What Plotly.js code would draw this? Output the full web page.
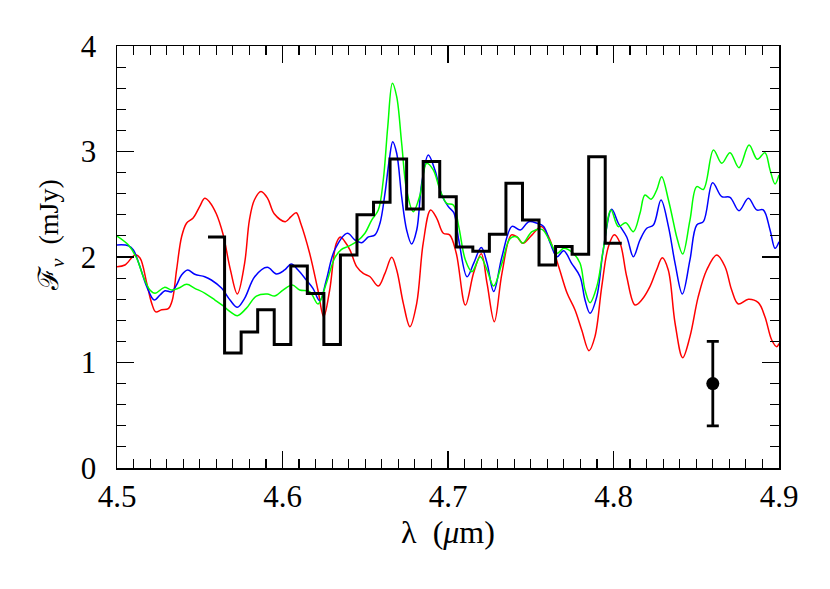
<!DOCTYPE html>
<html>
<head>
<meta charset="utf-8">
<script src="https://cdn.plot.ly/plotly-3.0.1.min.js"></script>
<style>
  html, body { margin: 0; padding: 0; background: #fff; }
  #chart { width: 830px; height: 589px; }
</style>
</head>
<body>
<div id="chart"></div>
<script>
// ---- data ----
const lamRed = [4.500,4.5048,4.5109,4.5139,4.518,4.521,4.5234,4.527,4.531,4.5334,4.536,4.539,4.542,4.546,4.550,4.553,4.556,4.560,4.564,4.5685,4.5727,4.5771,4.580,4.583,4.587,4.591,4.595,4.6017,4.605,4.6083,4.611,4.6164,4.6214,4.6249,4.6285,4.6325,4.635,4.6375,4.6408,4.6448,4.6488,4.6529,4.6579,4.6619,4.666,4.669,4.673,4.677,4.6811,4.685,4.6895,4.6932,4.6972,4.701,4.705,4.7105,4.7155,4.7201,4.7236,4.728,4.7326,4.7383,4.7417,4.7453,4.7508,4.7564,4.7608,4.7669,4.772,4.7767,4.7808,4.7852,4.7888,4.7929,4.7969,4.8005,4.804,4.808,4.813,4.817,4.822,4.826,4.8295,4.8331,4.8372,4.8418,4.8462,4.8512,4.8563,4.8624,4.8674,4.8714,4.8754,4.8815,4.8875,4.8915,4.8956,4.8986,4.900];
const fluxRed = [1.908,1.924,2.02,1.99,1.75,1.56,1.48,1.50,1.51,1.59,1.877,2.19,2.32,2.37,2.48,2.556,2.52,2.41,2.22,1.88,1.65,1.94,2.35,2.54,2.62,2.556,2.41,2.335,2.38,2.42,2.32,2.035,1.687,1.434,1.687,2.13,2.19,2.15,2.066,1.908,1.845,1.813,1.725,1.845,1.997,1.877,1.561,1.34,1.561,2.13,2.445,2.367,2.225,2.21,2.035,1.545,1.85,2.03,1.75,1.387,1.845,2.21,2.19,2.13,2.21,2.29,2.19,1.908,1.656,1.50,1.308,1.112,1.245,1.719,2.098,2.21,2.13,1.813,1.545,1.592,1.719,1.877,1.993,1.877,1.372,1.046,1.245,1.624,1.877,2.02,1.908,1.687,1.555,1.60,1.567,1.434,1.213,1.15,1.18];

const lamBlue = [4.500,4.5069,4.5099,4.5139,4.518,4.5225,4.526,4.529,4.533,4.536,4.539,4.5427,4.547,4.553,4.557,4.5633,4.5683,4.5727,4.5771,4.5832,4.5908,4.5963,4.6013,4.6053,4.6094,4.6144,4.6184,4.6225,4.6265,4.6315,4.6392,4.6438,4.6478,4.6519,4.6559,4.6589,4.6619,4.6645,4.6666,4.669,4.672,4.675,4.678,4.6811,4.6841,4.6881,4.6921,4.6962,4.7002,4.7035,4.7065,4.7115,4.7155,4.7201,4.7236,4.7276,4.7326,4.7387,4.7437,4.7488,4.7538,4.7578,4.7618,4.7659,4.7699,4.7747,4.7798,4.7828,4.7858,4.7899,4.7938,4.7989,4.8029,4.808,4.812,4.816,4.8201,4.8241,4.8287,4.8332,4.8372,4.8416,4.8462,4.8503,4.8543,4.8599,4.8654,4.8704,4.8758,4.8815,4.8865,4.8905,4.8946,4.8976,4.900];
const fluxBlue = [2.114,2.107,2.066,1.908,1.719,1.592,1.64,1.68,1.67,1.735,1.829,1.877,1.836,1.813,1.782,1.703,1.592,1.523,1.608,1.813,1.902,1.839,1.877,1.934,1.877,1.782,1.703,1.585,1.782,2.066,2.225,2.161,2.136,2.19,2.21,2.32,2.60,2.92,3.093,2.983,2.572,2.256,2.123,2.256,2.698,2.967,2.825,2.588,2.477,2.42,2.161,1.813,1.94,2.09,1.94,1.672,2.003,2.29,2.256,2.335,2.32,2.29,2.13,2.003,2.06,1.94,1.813,1.592,1.466,1.624,2.066,2.452,2.32,2.19,2.003,2.161,2.272,2.303,2.54,2.288,1.94,1.649,1.972,2.303,2.335,2.704,2.572,2.566,2.439,2.556,2.446,2.446,2.256,2.082,2.145];

const lamGreen = [4.500,4.5069,4.5119,4.5159,4.5199,4.523,4.5286,4.533,4.537,4.5421,4.547,4.5532,4.5592,4.5642,4.5683,4.5727,4.5781,4.5842,4.5908,4.5953,4.6003,4.6059,4.6104,4.6164,4.6215,4.6265,4.6315,4.6355,4.6397,4.6448,4.6498,4.6539,4.6579,4.6609,4.6636,4.6664,4.669,4.672,4.675,4.679,4.6831,4.6871,4.6911,4.6952,4.6992,4.7032,4.7065,4.7105,4.7145,4.7195,4.7236,4.7276,4.7326,4.7376,4.7417,4.7451,4.7508,4.7568,4.7612,4.7659,4.7699,4.7757,4.7798,4.7828,4.7858,4.7899,4.7938,4.7985,4.8029,4.8074,4.812,4.816,4.819,4.8227,4.8261,4.8291,4.8332,4.8372,4.8382,4.8418,4.8462,4.8503,4.8543,4.8604,4.8654,4.8704,4.8758,4.8819,4.8869,4.8915,4.8946,4.8976,4.900];
const fluxGreen = [2.199,2.114,1.988,1.813,1.687,1.656,1.712,1.687,1.703,1.741,1.703,1.656,1.592,1.536,1.482,1.444,1.513,1.63,1.649,1.63,1.687,1.735,1.687,1.672,1.555,1.751,1.988,2.07,2.10,2.145,2.225,2.35,2.445,2.73,3.235,3.646,3.52,3.078,2.635,2.43,2.588,2.888,2.825,2.635,2.509,2.493,2.288,1.972,1.861,2.003,1.877,1.725,1.94,2.177,2.19,2.13,2.24,2.262,2.161,2.035,2.082,2.035,1.94,1.687,1.567,1.719,2.066,2.446,2.288,2.325,2.24,2.414,2.588,2.547,2.635,2.761,2.54,2.256,2.19,2.028,2.35,2.667,2.64,3.014,2.888,2.989,2.847,3.062,2.926,2.989,2.825,2.692,2.777];

// observed spectrum, binned (bin centres in micron, 0.01 micron bins)
const binCenter = [4.56,4.57,4.58,4.59,4.60,4.61,4.62,4.63,4.64,4.65,4.66,4.67,4.68,4.69,4.70,4.71,4.72,4.73,4.74,4.75,4.76,4.77,4.78,4.79,4.80];
const binFlux   = [2.19,1.09,1.29,1.50,1.17,1.915,1.655,1.17,2.02,2.40,2.52,2.93,2.455,2.905,2.57,2.095,2.055,2.215,2.70,2.35,1.925,2.10,2.025,2.95,2.13];
const binWidth = 0.01;

// typical error bar
const errLam = [4.86];
const errFlux = [0.8];
const errSize = [0.4];

// axis text
const xTitle = 'λ  (<i>μ</i>m)';
const yTitle = 'ℱ<sub><i>ν</i></sub>  (mJy)';

// ---- build the stepped histogram path from the bins ----
const stepX = binCenter.map(c => c - binWidth / 2);
stepX.push(binCenter[binCenter.length - 1] + binWidth / 2);
const stepY = binFlux.slice();
stepY.push(binFlux[binFlux.length - 1]);

const traces = [
  { x: lamRed, y: fluxRed, mode: 'lines', line: { color: '#ff0000', width: 1.5, shape: 'spline', smoothing: 1 }, hoverinfo: 'skip' },
  { x: lamBlue, y: fluxBlue, mode: 'lines', line: { color: '#0000ff', width: 1.5, shape: 'spline', smoothing: 1 }, hoverinfo: 'skip' },
  { x: lamGreen, y: fluxGreen, mode: 'lines', line: { color: '#00ff00', width: 1.5, shape: 'spline', smoothing: 1 }, hoverinfo: 'skip' },
  { x: stepX, y: stepY, mode: 'lines', line: { color: '#000000', width: 3, shape: 'hv' }, hoverinfo: 'skip' },
  { x: errLam, y: errFlux, mode: 'markers',
    marker: { color: '#000000', size: 13, symbol: 'circle' },
    error_y: { type: 'data', array: errSize, visible: true, color: '#000000', thickness: 2.8, width: 6 } }
];

const tickFont = { family: 'Liberation Serif', size: 31, color: '#000' };
const xTitleFont = { family: 'Liberation Serif', size: 32, color: '#000' };
const yTitleFont = { family: 'Liberation Serif', size: 28, color: '#000' };

const layout = {
  width: 830, height: 589,
  margin: { l: 117, r: 51, t: 46, b: 121 },
  paper_bgcolor: '#ffffff', plot_bgcolor: '#ffffff',
  showlegend: false,
  xaxis: {
    range: [4.5, 4.9], dtick: 0.1, tick0: 4.5, tickformat: '.1f',
    ticks: 'inside', ticklen: 17, tickwidth: 1.3, tickcolor: '#000',
    minor: { dtick: 0.01, ticks: 'inside', ticklen: 9, tickwidth: 1.1, tickcolor: '#000' },
    showline: true, linecolor: '#000', linewidth: 1.5, mirror: 'allticks',
    showgrid: false, zeroline: false,
    tickfont: tickFont, ticklabelstandoff: 0,
    title: { text: xTitle, font: xTitleFont, standoff: 4 }
  },
  yaxis: {
    range: [0, 4], dtick: 1, tick0: 0,
    ticks: 'inside', ticklen: 17, tickwidth: 1.3, tickcolor: '#000',
    minor: { dtick: 0.2, ticks: 'inside', ticklen: 9, tickwidth: 1.1, tickcolor: '#000' },
    showline: true, linecolor: '#000', linewidth: 1.5, mirror: 'allticks',
    showgrid: false, zeroline: false,
    tickfont: tickFont, ticklabelstandoff: 13
  },
  annotations: [
    { text: yTitle, font: yTitleFont, textangle: -90, showarrow: false,
      xref: 'paper', yref: 'paper', x: -0.101, y: 0.552, xanchor: 'center', yanchor: 'middle' }
  ]
};

Plotly.newPlot('chart', traces, layout, { staticPlot: true, displayModeBar: false });
</script>
</body>
</html>
